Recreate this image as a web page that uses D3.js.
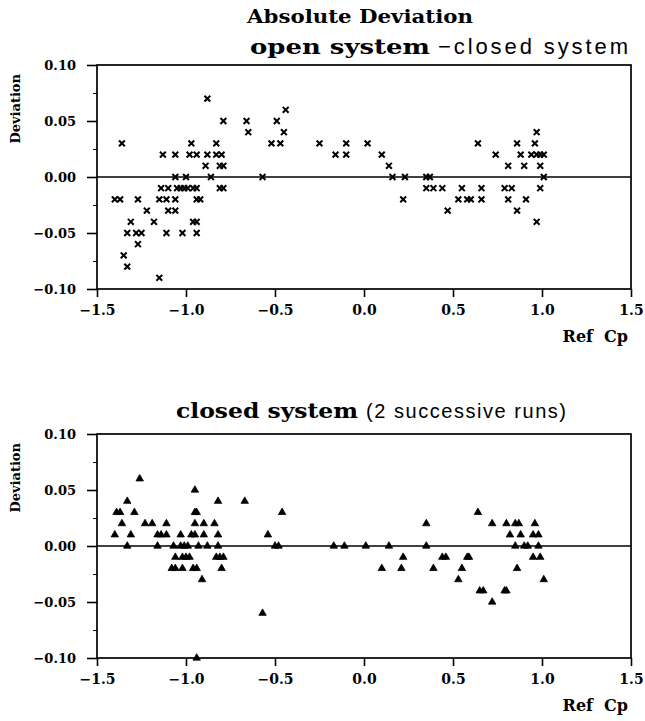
<!DOCTYPE html>
<html>
<head>
  <meta charset="UTF-8">
  <title>Absolute Deviation</title>
  <script src="https://d3js.org/d3.v7.min.js"></script>
  <style>
    body { margin: 0; background: #fff; }
    .serif { font-family: 'DejaVu Serif', serif; font-weight: bold; }
    .sans { font-family: 'Liberation Sans', Arial, sans-serif; }
    .tick text { font-family: 'DejaVu Serif', serif; font-weight: bold; }
  </style>
</head>
<body>
  <svg id="chart" width="645" height="721"></svg>
  <script>
    // x ticks shared by both panels
    const xTicks = [-1.5, -1.0, -0.5, 0.0, 0.5, 1.0, 1.5];
    const yTicks = [-0.10, -0.05, 0.00, 0.05, 0.10];

    // open system - closed system (asterisk markers)
    const openX = [-0.88, -0.79, -1.36, -0.97, -0.83,
      -1.13, -1.06, -0.98, -0.94, -0.88, -0.83, -0.80,
      -0.89, -0.81, -0.79,
      -1.06, -1.00, -0.86,
      -1.14, -1.10, -1.05, -1.03, -1.01, -0.99, -0.96, -0.94, -0.81, -0.79,
      -1.40, -1.37, -1.27, -1.15, -1.11, -1.06, -0.94, -0.92,
      -1.22, -1.10, -1.06,
      -1.31, -1.18, -0.96, -0.94,
      -1.33, -1.28, -1.25, -1.11, -1.02, -0.94,
      -1.27, -1.35, -1.33, -1.15,
      -0.44, -0.66, -0.49, -0.65, -0.45,
      -0.52, -0.47, -0.25, -0.10, 0.02,
      -0.16, -0.10, 0.10, 0.14,
      -0.57, 0.16, 0.23, 0.35, 0.37,
      0.35, 0.39, 0.44, 0.55, 0.66, 0.79, 0.83, 0.99,
      0.22, 0.53, 0.58, 0.60, 0.66, 0.81, 0.91,
      0.47, 0.86, 0.97,
      0.97, 0.64, 0.86, 0.96,
      0.74, 0.88, 0.94, 0.97, 0.99, 1.01,
      0.81, 0.90, 0.99, 1.01];
    const openY = [0.07, 0.05, 0.03, 0.03, 0.03,
      0.02, 0.02, 0.02, 0.02, 0.02, 0.02, 0.02,
      0.01, 0.01, 0.01,
      0.00, 0.00, 0.00,
      -0.01, -0.01, -0.01, -0.01, -0.01, -0.01, -0.01, -0.01, -0.01, -0.01,
      -0.02, -0.02, -0.02, -0.02, -0.02, -0.02, -0.02, -0.02,
      -0.03, -0.03, -0.03,
      -0.04, -0.04, -0.04, -0.04,
      -0.05, -0.05, -0.05, -0.05, -0.05, -0.05,
      -0.06, -0.07, -0.08, -0.09,
      0.06, 0.05, 0.05, 0.04, 0.04,
      0.03, 0.03, 0.03, 0.03, 0.03,
      0.02, 0.02, 0.02, 0.01,
      0.00, 0.00, 0.00, 0.00, 0.00,
      -0.01, -0.01, -0.01, -0.01, -0.01, -0.01, -0.01, -0.01,
      -0.02, -0.02, -0.02, -0.02, -0.02, -0.02, -0.02,
      -0.03, -0.03, -0.04,
      0.04, 0.03, 0.03, 0.03,
      0.02, 0.02, 0.02, 0.02, 0.02, 0.02,
      0.01, 0.01, 0.01, 0.00];

    // closed system, 2 successive runs (triangle markers)
    const closedX = [-1.26,
      -0.95,
      -1.33, -0.82, -0.67,
      -1.39, -1.37, -1.29, -0.95, -0.94, -0.46,
      -1.36, -1.23, -1.19, -1.11, -0.95, -0.90, -0.84,
      -1.40, -1.31, -1.16, -1.14, -1.11, -1.03, -0.97, -0.95, -0.90, -0.82, -0.54,
      -1.33, -1.16, -1.07, -1.03, -1.01, -0.99, -0.93, -0.88, -0.82, -0.50, -0.48, -0.17, -0.11, 0.01, 0.14, 0.35,
      -1.06, -1.02, -1.00, -0.98, -0.83, -0.81, -0.79, 0.22,
      -1.08, -1.06, -1.02, -0.96, -0.94, -0.80, 0.10, 0.21,
      -0.91, -0.57, -0.94,
      0.64, 0.35, 0.72, 0.80, 0.85, 0.87, 0.96,
      0.82, 0.88, 0.95, 0.98,
      0.85, 0.90, 0.92, 0.98,
      0.44, 0.46, 0.58, 0.59, 0.95, 0.99,
      0.39, 0.55, 0.86,
      0.53, 1.01,
      0.65, 0.67, 0.79, 0.80,
      0.72];
    const closedY = [0.06,
      0.05,
      0.04, 0.04, 0.04,
      0.03, 0.03, 0.03, 0.03, 0.03, 0.03,
      0.02, 0.02, 0.02, 0.02, 0.02, 0.02, 0.02,
      0.01, 0.01, 0.01, 0.01, 0.01, 0.01, 0.01, 0.01, 0.01, 0.01, 0.01,
      0.00, 0.00, 0.00, 0.00, 0.00, 0.00, 0.00, 0.00, 0.00, 0.00, 0.00, 0.00, 0.00, 0.00, 0.00, 0.00,
      -0.01, -0.01, -0.01, -0.01, -0.01, -0.01, -0.01, -0.01,
      -0.02, -0.02, -0.02, -0.02, -0.02, -0.02, -0.02, -0.02,
      -0.03, -0.06, -0.10,
      0.03, 0.02, 0.02, 0.02, 0.02, 0.02, 0.02,
      0.01, 0.01, 0.01, 0.01,
      0.00, 0.00, 0.00, 0.00,
      -0.01, -0.01, -0.01, -0.01, -0.01, -0.01,
      -0.02, -0.02, -0.02,
      -0.03, -0.03,
      -0.04, -0.04, -0.04, -0.04,
      -0.05];

    const svg = d3.select("#chart");
    const left = 97, right = 631, ph = 224;

    const x = d3.scaleLinear().domain([-1.5, 1.5]).range([left, right]);

    function panel(top, xs, ys, symbolType, filled) {
      const y = d3.scaleLinear().domain([-0.1, 0.1]).range([top + ph, top]);
      const g = svg.append("g");

      // minor y ticks (0.025)
      g.append("g")
        .attr("transform", `translate(${left},0)`)
        .call(d3.axisLeft(y).tickValues(d3.range(-0.075, 0.1, 0.05)).tickSize(4).tickFormat(""))
        .call(a => a.select(".domain").remove());

      g.append("g")
        .attr("transform", `translate(${left},0)`)
        .call(d3.axisLeft(y).tickValues(yTicks).tickSize(10).tickPadding(11).tickFormat(d3.format(".2f")))
        .call(a => a.select(".domain").remove())
        .call(a => a.selectAll("text").style("font-size", "13px"))
        .selectAll("line").attr("stroke-width", 1.6);

      g.append("g")
        .attr("transform", `translate(0,${top + ph})`)
        .call(d3.axisBottom(x).tickValues(xTicks).tickSize(8).tickPadding(8).tickFormat(d3.format(".1f")))
        .call(a => a.select(".domain").remove())
        .call(a => a.selectAll("text").style("font-size", "14px"))
        .selectAll("line").attr("stroke-width", 1.6);

      // frame
      g.append("rect")
        .attr("x", left).attr("y", top)
        .attr("width", right - left).attr("height", ph)
        .attr("fill", "none").attr("stroke", "#000").attr("stroke-width", 1.7);

      // zero line
      g.append("line")
        .attr("x1", left).attr("x2", right)
        .attr("y1", y(0)).attr("y2", y(0))
        .attr("stroke", "#000").attr("stroke-width", 1.4);

      const sym = d3.symbol().type(symbolType).size(filled ? 24 : 24);
      g.selectAll(".pt")
        .data(xs.map((v, i) => [v, ys[i]]))
        .enter().append("path")
        .attr("transform", d => `translate(${x(d[0])},${y(d[1])})`)
        .attr("d", sym)
        .attr("fill", filled ? "#000" : "none")
        .attr("stroke", "#000")
        .attr("stroke-width", filled ? 0.8 : 2);

      // y label
      svg.append("text")
        .attr("class", "serif")
        .attr("transform", `translate(20,${top + 9}) rotate(-90)`)
        .attr("text-anchor", "end")
        .style("font-size", "13px")
        .text("Deviation");

      // x label
      svg.append("text")
        .attr("class", "serif")
        .attr("x", 628).attr("y", top + ph + 53)
        .attr("text-anchor", "end")
        .style("font-size", "16px")
        .style("white-space", "pre")
        .text("Ref  Cp");
    }

    panel(65, openX, openY, d3.symbolX, false);
    panel(434, closedX, closedY, d3.symbolTriangle, true);

    // titles
    svg.append("text")
      .attr("class", "serif")
      .attr("x", 247).attr("y", 23)
      .attr("textLength", 226).attr("lengthAdjust", "spacingAndGlyphs")
      .style("font-size", "18px")
      .text("Absolute Deviation");

    svg.append("text")
      .attr("class", "serif")
      .attr("x", 250).attr("y", 54)
      .attr("textLength", 180).attr("lengthAdjust", "spacingAndGlyphs")
      .style("font-size", "21px")
      .style("font-weight", "600")
      .text("open system");
    svg.append("text")
      .attr("class", "sans")
      .attr("x", 438).attr("y", 54)
      .attr("textLength", 190).attr("lengthAdjust", "spacing")
      .style("font-size", "22px")
      .text("\u2212closed system");

    svg.append("text")
      .attr("class", "serif")
      .attr("x", 176).attr("y", 418)
      .attr("textLength", 182).attr("lengthAdjust", "spacingAndGlyphs")
      .style("font-size", "21px")
      .text("closed system");
    svg.append("text")
      .attr("class", "sans")
      .attr("x", 366).attr("y", 418)
      .attr("textLength", 200).attr("lengthAdjust", "spacing")
      .style("font-size", "20px")
      .text("(2 successive runs)");
  </script>
</body>
</html>
